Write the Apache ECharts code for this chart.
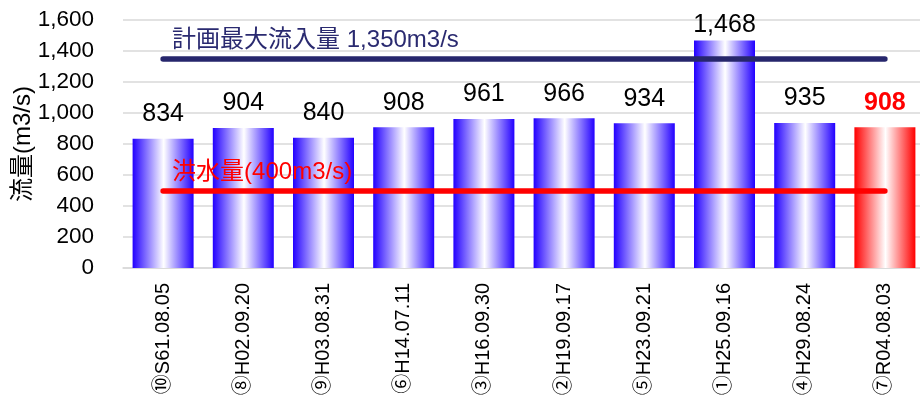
<!DOCTYPE html>
<html>
<head>
<meta charset="utf-8">
<script src="https://cdn.jsdelivr.net/npm/echarts@6/dist/echarts.min.js"></script>
<style>
html,body{margin:0;padding:0;background:#fff;}
#c{width:920px;height:403px;}
</style>
</head>
<body>
<div id="c"></div>
<script>
const categories = ['⑩S61.08.05','⑧H02.09.20','⑨H03.08.31','⑥H14.07.11','③H16.09.30','②H19.09.17','⑤H23.09.21','①H25.09.16','④H29.08.24','⑦R04.08.03'];
const flows = [834, 904, 840, 908, 961, 966, 934, 1468, 935, 908];
const highlightIndex = 9;
const planLineValue = 1350;
const planLineLabel = '計画最大流入量 1,350m3/s';
const floodLineValue = 500;   // drawn at ~500 in the reference
const floodLineLabel = '洪水量(400m3/s)';
const yTicks = { min: 0, max: 1600, interval: 200 };

const FONT = "'Liberation Sans', Arial, 'Noto Sans CJK JP', sans-serif";

function grad(c) {
  return {
    type: 'linear', x: 0, y: 0, x2: 1, y2: 0,
    colorStops: [
      { offset: 0, color: c },
      { offset: 0.51, color: '#ffffff' },
      { offset: 1, color: c }
    ]
  };
}

const maxVal = Math.max(...flows);
const barData = flows.map((v, i) => {
  const item = { value: v, itemStyle: { color: grad(i === highlightIndex ? '#ff0000' : '#2200ff') } };
  const lab = {};
  if (i === highlightIndex) { lab.color = '#ff0000'; lab.fontWeight = 'bold'; }
  if (v === maxVal) { lab.distance = 3; }
  item.label = lab;
  return item;
});

const chart = echarts.init(document.getElementById('c'));
chart.setOption({
  animation: false,
  textStyle: { fontFamily: FONT },
  grid: { left: 123, top: 20, bottom: 135, width: 802, outerBoundsMode: 'none', containLabel: false },
  xAxis: {
    type: 'category',
    data: categories,
    axisLine: { show: true, lineStyle: { color: '#d9d9d9', width: 1.5 } },
    axisTick: { show: false },
    axisLabel: { rotate: 90, fontSize: 20, color: '#000', margin: 15, fontFamily: FONT }
  },
  yAxis: {
    type: 'value',
    min: yTicks.min, max: yTicks.max, interval: yTicks.interval,
    name: '流量(m3/s)',
    nameLocation: 'middle',
    nameGap: 88,
    nameMoveOverlap: false,
    nameTextStyle: { fontSize: 24, color: '#000', fontFamily: FONT },
    axisLine: { show: false },
    axisTick: { show: false },
    splitLine: { lineStyle: { color: '#d9d9d9', width: 1.5 } },
    axisLabel: {
      fontSize: 22.5, color: '#000', margin: 29, fontFamily: FONT,
      formatter: v => v.toLocaleString('en-US')
    }
  },
  series: [{
    type: 'bar',
    data: barData,
    barWidth: 61,
    label: {
      show: true, position: 'top', distance: 12,
      fontSize: 25, color: '#000', fontFamily: FONT,
      formatter: p => p.value.toLocaleString('en-US')
    },
    markLine: {
      silent: true,
      symbol: ['none', 'none'],
      data: [
        [
          { coord: [categories[0], planLineValue], lineStyle: { color: '#26266c', width: 5.5, cap: 'round', type: 'solid' },
            label: { show: true, formatter: planLineLabel, position: 'insideStartTop', distance: [9, 6], color: '#2a2a70', fontSize: 24, fontFamily: FONT } },
          { coord: [categories[categories.length - 1], planLineValue] }
        ],
        [
          { coord: [categories[0], floodLineValue], lineStyle: { color: '#ff0000', width: 5.5, cap: 'round', type: 'solid' },
            label: { show: true, formatter: floodLineLabel, position: 'insideStartTop', distance: [9, 6], color: '#ff0000', fontSize: 24, fontFamily: FONT } },
          { coord: [categories[categories.length - 1], floodLineValue] }
        ]
      ]
    }
  }]
});
</script>
</body>
</html>
